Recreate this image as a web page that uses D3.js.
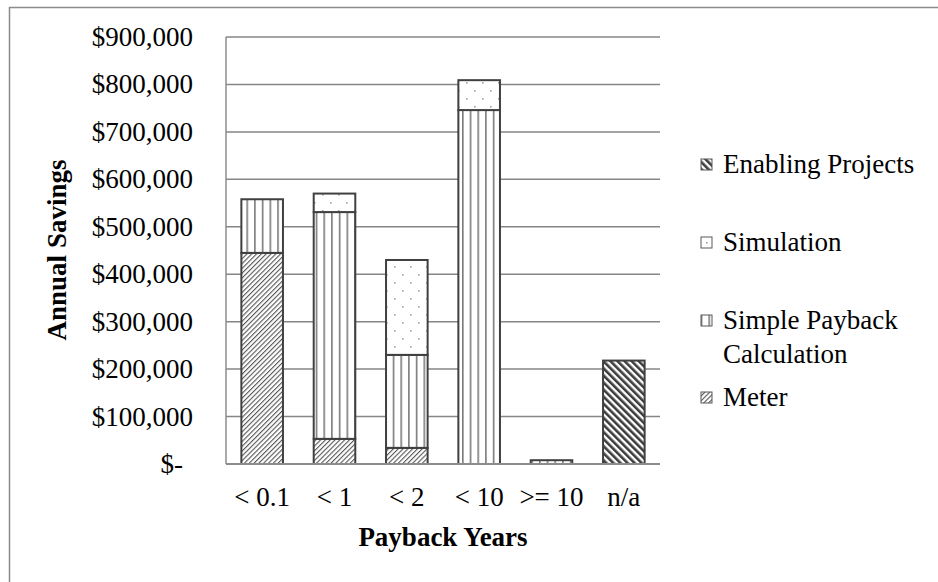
<!DOCTYPE html>
<html>
<head>
<meta charset="utf-8">
<script src="https://cdn.jsdelivr.net/npm/d3@7"></script>
<style>
  html, body { margin: 0; padding: 0; background: #fff; }
  svg { display: block; }
  text { font-family: "Liberation Serif", "Times New Roman", serif; fill: #000; }
</style>
</head>
<body>
<svg id="chart" width="938" height="582"></svg>
<script>
const categories = ["< 0.1", "< 1", "< 2", "< 10", ">= 10", "n/a"];
const meter = [445000, 53000, 34000, 0, 0, 0];
const simplePayback = [113000, 478000, 196000, 746000, 8000, 0];
const simulation = [0, 39000, 200000, 63000, 0, 0];
const enablingProjects = [0, 0, 0, 0, 0, 218000];
const seriesKeys = ["meter", "payback", "simulation", "enabling"];
const seriesNames = ["Meter", "Simple Payback Calculation", "Simulation", "Enabling Projects"];
const yTicks = [0, 100000, 200000, 300000, 400000, 500000, 600000, 700000, 800000, 900000];
const yTickLabels = ["$-", "$100,000", "$200,000", "$300,000", "$400,000", "$500,000", "$600,000", "$700,000", "$800,000", "$900,000"];
const xTitle = "Payback Years";
const yTitle = "Annual Savings";

const svg = d3.select("#chart");
const plot = { left: 226, right: 660, top: 37, bottom: 464 };

const x = d3.scaleBand().domain(categories).range([plot.left, plot.right])
  .paddingInner(0.425).paddingOuter(0.2125);
const y = d3.scaleLinear().domain([0, 900000]).range([plot.bottom, plot.top]);

// patterns
const defs = svg.append("defs");
function pat(id, w, h, transform) {
  const p = defs.append("pattern").attr("id", id).attr("patternUnits", "userSpaceOnUse")
    .attr("width", w).attr("height", h);
  if (transform) p.attr("patternTransform", transform);
  p.append("rect").attr("width", w).attr("height", h).attr("fill", "#fff");
  return p;
}
// Meter: upward diagonal thin lines
pat("p-meter", 3.4, 10, "rotate(45)")
  .append("rect").attr("x", 0).attr("y", 0).attr("width", 1.1).attr("height", 10).attr("fill", "#555");
// Simple payback: vertical lines
pat("p-payback", 7.7, 10)
  .append("rect").attr("x", 0).attr("y", 0).attr("width", 1.6).attr("height", 10).attr("fill", "#7a7a7a");
// Simulation: sparse dots
const ps = pat("p-simulation", 16, 16);
ps.append("rect").attr("x", 2).attr("y", 2).attr("width", 1.6).attr("height", 1.6).attr("fill", "#a0a0a0");
ps.append("rect").attr("x", 10).attr("y", 10).attr("width", 1.6).attr("height", 1.6).attr("fill", "#a0a0a0");
// Enabling: dark downward diagonal stripes
pat("p-enabling", 5, 10, "rotate(-45)")
  .append("rect").attr("x", 0).attr("y", 0).attr("width", 2.6).attr("height", 10).attr("fill", "#3c3c3c");

const fills = { meter: "url(#p-meter)", payback: "url(#p-payback)", simulation: "url(#p-simulation)", enabling: "url(#p-enabling)" };

// outer border (cropped)
svg.append("path").attr("d", "M9.5,590 V7.5 H950").attr("fill", "none")
  .attr("stroke", "#8c8c8c").attr("stroke-width", 1.5);

// gridlines
svg.append("g").selectAll("line").data(yTicks.slice(1)).join("line")
  .attr("x1", plot.left).attr("x2", plot.right)
  .attr("y1", d => y(d)).attr("y2", d => y(d))
  .attr("stroke", "#868686").attr("stroke-width", 1.5);
// vertical axis line
svg.append("line").attr("x1", plot.left).attr("x2", plot.left)
  .attr("y1", y(900000)).attr("y2", y(0)).attr("stroke", "#8c8c8c").attr("stroke-width", 1.5);

// y tick labels
svg.append("g").selectAll("text").data(yTicks).join("text")
  .attr("x", (d, i) => i === 0 ? 183 : 193)
  .attr("y", d => y(d) + 9)
  .attr("text-anchor", "end").attr("font-size", 27)
  .text((d, i) => yTickLabels[i]);

// stacked data
const rows = categories.map((c, i) => ({ cat: c, meter: meter[i], payback: simplePayback[i], simulation: simulation[i], enabling: enablingProjects[i] }));
const stacked = d3.stack().keys(seriesKeys)(rows);

const bars = svg.append("g");
stacked.forEach(s => {
  bars.append("g").selectAll("rect").data(s.filter(d => d[1] - d[0] > 0)).join("rect")
    .attr("x", d => x(d.data.cat))
    .attr("width", x.bandwidth())
    .attr("y", d => y(d[1]))
    .attr("height", d => y(d[0]) - y(d[1]))
    .attr("fill", fills[s.key])
    .attr("stroke", "#404040").attr("stroke-width", 2);
});

// x axis line
svg.append("line").attr("x1", plot.left).attr("x2", plot.right)
  .attr("y1", y(0)).attr("y2", y(0)).attr("stroke", "#8c8c8c").attr("stroke-width", 2);

// x tick labels
svg.append("g").selectAll("text").data(categories).join("text")
  .attr("x", d => x(d) + x.bandwidth() / 2)
  .attr("y", 506).attr("text-anchor", "middle").attr("font-size", 27)
  .text(d => d);

// axis titles
svg.append("text").attr("x", (plot.left + plot.right) / 2).attr("y", 546)
  .attr("text-anchor", "middle").attr("font-size", 27).attr("font-weight", "bold").text(xTitle);
svg.append("text").attr("transform", "translate(66,250) rotate(-90)")
  .attr("text-anchor", "middle").attr("font-size", 27).attr("font-weight", "bold").text(yTitle);

// legend (top to bottom: reversed series order)
const legendItems = [
  { key: "enabling", lines: ["Enabling Projects"], cy: 164.5 },
  { key: "simulation", lines: ["Simulation"], cy: 242.5 },
  { key: "payback", lines: ["Simple Payback", "Calculation"], cy: 320.5 },
  { key: "meter", lines: ["Meter"], cy: 397.5 }
];
const lg = svg.append("g");
legendItems.forEach(it => {
  lg.append("rect").attr("x", 701).attr("y", it.cy - 5.5).attr("width", 11).attr("height", 11)
    .attr("fill", fills[it.key]).attr("stroke", "#595959").attr("stroke-width", 1);
  const t = lg.append("text").attr("x", 723).attr("y", it.cy + 8.5).attr("font-size", 27);
  it.lines.forEach((ln, j) => {
    t.append("tspan").attr("x", 723).attr("dy", j === 0 ? 0 : 34).text(ln);
  });
});
</script>
</body>
</html>
